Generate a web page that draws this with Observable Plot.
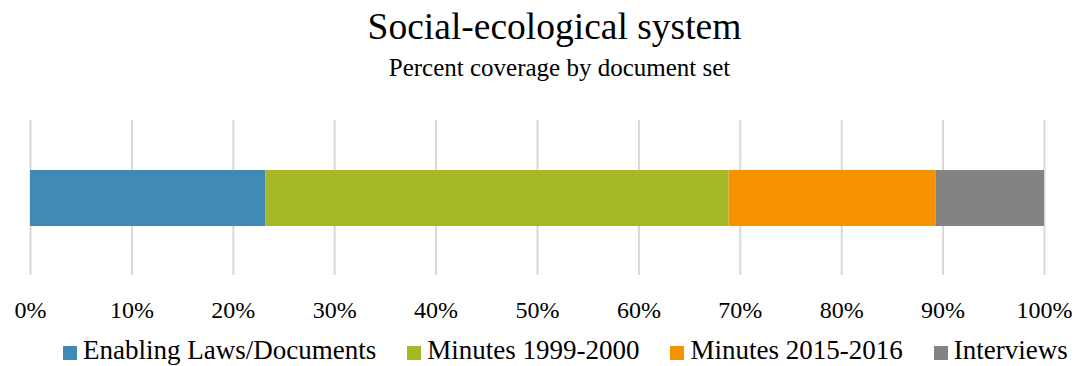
<!DOCTYPE html>
<html>
<head>
<meta charset="utf-8">
<script src="https://cdn.jsdelivr.net/npm/d3@7"></script>
<script src="https://cdn.jsdelivr.net/npm/@observablehq/plot@0.6"></script>
<style>
  html, body { margin: 0; padding: 0; background: #fff; }
  #wrap { position: relative; width: 1075px; height: 366px; font-family: "Liberation Serif", "Times New Roman", serif; color: #000; overflow: hidden; }
  #title { position: absolute; left: 17px; width: 1075px; top: 7px; text-align: center; font-size: 37.5px; line-height: 40px; white-space: nowrap; }
  #subtitle { position: absolute; left: 22px; width: 1075px; top: 53px; text-align: center; font-size: 25px; line-height: 30px; white-space: nowrap; }
  #chart { position: absolute; left: 0; top: 100px; }
  #legend { position: absolute; left: 63px; top: 337px; display: flex; gap: 31px; font-size: 27px; line-height: 27px; height: 27px; white-space: nowrap; }
  .item { display: flex; align-items: center; height: 27px; }
  .sw { width: 14px; height: 14px; margin-right: 6px; margin-top: 5px; }
</style>
</head>
<body>
<div id="wrap">
  <div id="title">Social-ecological system</div>
  <div id="subtitle">Percent coverage by document set</div>
  <div id="chart"></div>
  <div id="legend"></div>
</div>
<script>
const categories = ["Enabling Laws/Documents", "Minutes 1999-2000", "Minutes 2015-2016", "Interviews"];
const values = [23.2, 45.7, 20.4, 10.7];
const colors = ["#418AB3", "#A6B727", "#F69200", "#838383"];
const tickValues = [0, 10, 20, 30, 40, 50, 60, 70, 80, 90, 100];
const rowLabel = "Social-ecological system";

const data = categories.map((c, i) => ({series: c, value: values[i], row: rowLabel}));

const chart = Plot.plot({
  width: 1075,
  height: 230,
  marginTop: 20,
  marginBottom: 55,
  marginLeft: 30,
  marginRight: 31,
  style: {fontFamily: "'Liberation Serif', 'Times New Roman', serif", fontSize: "24px", color: "#000", background: "transparent"},
  x: {domain: [0, 100]},
  y: {domain: [rowLabel], axis: null, padding: 0},
  color: {domain: categories, range: colors},
  marks: [
    Plot.gridX(tickValues, {stroke: "#d9d9d9", strokeOpacity: 1, strokeWidth: 2}),
    Plot.barX(data, Plot.stackX({x: "value", y: "row", fill: "series", order: categories, insetTop: 50, insetBottom: 49})),
    Plot.axisX(tickValues, {tickFormat: d => d + "%", tickSize: 0, tickPadding: 25, label: null, fontSize: 24, fill: "#000"})
  ]
});
document.getElementById("chart").appendChild(chart);

const legend = document.getElementById("legend");
categories.forEach((c, i) => {
  const it = document.createElement("div");
  it.className = "item";
  const sw = document.createElement("span");
  sw.className = "sw";
  sw.style.background = colors[i];
  const tx = document.createElement("span");
  tx.textContent = c;
  it.appendChild(sw);
  it.appendChild(tx);
  legend.appendChild(it);
});
</script>
</body>
</html>
